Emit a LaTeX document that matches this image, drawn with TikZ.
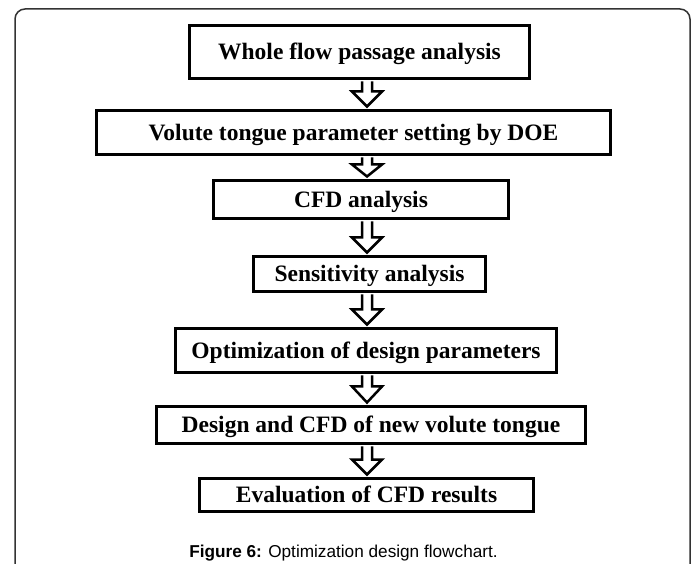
\documentclass[tikz,border=0pt]{standalone}
\usepackage{fontspec}
\setmainfont{Liberation Serif}
\newfontfamily\capfont{Liberation Sans}
\usetikzlibrary{calc}
\newcommand\flowarrow[3]{%
  \coordinate (#1s) at ($(#1.south -| ax)+(0,1.3)$);
  \coordinate (#1t) at ($(#2.north -| ax)-(0,2.5)$);
  \draw[blockarrow] ($(#1s)+(-5,0)$) -- ($(#1t)+(-5,-#3)$) -- ($(#1t)+(-15,-#3)$) -- (#1t)
    -- ($(#1t)+(15,-#3)$) -- ($(#1t)+(5,-#3)$) -- ($(#1s)+(5,0)$);}
\begin{document}
\begin{tikzpicture}[x=1pt,y=-1pt,
  stepbox/.style={draw=black, line width=2.6pt, inner sep=0pt,
    font=\fontsize{23.5}{23.5}\selectfont\bfseries, text height=15.5pt, text depth=0pt},
  blockarrow/.style={draw=black, line width=2.5pt, fill=white, miter limit=10},
  frame/.style={draw=black!80, line width=1.5pt, rounded corners=10pt},
  captext/.style={font=\capfont\fontsize{17.2}{17.2}\selectfont, anchor=base, inner sep=0pt}]
\useasboundingbox (0,0) rectangle (697,564);
\draw[frame] (15,600) -- (15,9) -- (690,9) -- (690,600);
\coordinate (ax) at (367,0);
\node[stepbox, minimum width=340.4pt, minimum height=53.4pt] (b1) at (359.5,52) {Whole flow passage analysis};
\node[stepbox, minimum width=514.4pt, minimum height=44.4pt] (b2) at (353.5,132.5) {Volute tongue parameter setting by DOE};
\node[stepbox, minimum width=295.4pt, minimum height=38.4pt] (b3) at (361,199.5) {CFD analysis};
\node[stepbox, minimum width=232.4pt, minimum height=35.4pt] (b4) at (369.5,274) {Sensitivity analysis};
\node[stepbox, minimum width=381.4pt, minimum height=44.4pt] (b5) at (366,350.5) {Optimization of design parameters};
\node[stepbox, minimum width=429.4pt, minimum height=37.4pt] (b6) at (371,425) {Design and CFD of new volute tongue};
\node[stepbox, minimum width=334.4pt, minimum height=33.4pt] (b7) at (366.5,495) {Evaluation of CFD results};
\flowarrow{b1}{b2}{15}
\flowarrow{b2}{b3}{12}
\flowarrow{b3}{b4}{15}
\flowarrow{b4}{b5}{15}
\flowarrow{b5}{b6}{16}
\flowarrow{b6}{b7}{15}
\node[captext] (cap) at (343.5,557) {\textbf{Figure 6:} Optimization design flowchart.};
\end{tikzpicture}
\end{document}
